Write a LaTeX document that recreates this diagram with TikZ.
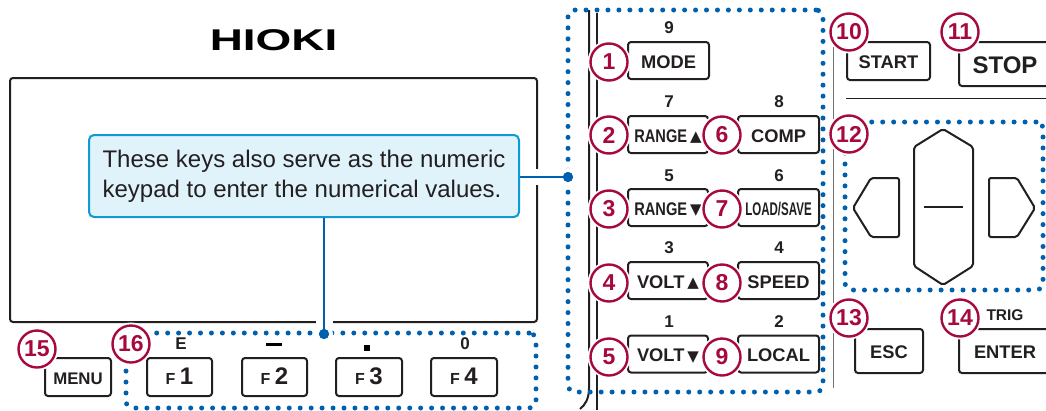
\documentclass[tikz,border=0pt]{standalone}
\usepackage{fontspec}
\setmainfont{Liberation Sans}
\newfontfamily\symfont{DejaVu Sans}
\definecolor{ink}{HTML}{231F20}
\definecolor{crim}{HTML}{A6093D}
\definecolor{dotblue}{HTML}{0060B0}
\definecolor{callfill}{HTML}{E0F3FB}
\definecolor{callline}{HTML}{0F9AD6}
\newcommand{\fs}[1]{\fontsize{#1}{#1}\selectfont}
\newcommand{\upt}{\hspace{3pt}{\symfont\fs{15}\raisebox{0.5pt}{▲}}}
\newcommand{\dnt}{\hspace{3pt}{\symfont\fs{15}\raisebox{0.5pt}{▼}}}
\newcommand{\fk}[1]{{\fs{16}F}\hspace{4.5pt}{\fs{24}#1}}
\tikzset{
  x=1pt,y=-1pt,
  keybox/.style={draw=ink,line width=2pt,rounded corners=3pt,fill=white,inner sep=0pt,text=ink,font=\bfseries\fs{18.3},align=center,text height=15pt,text depth=0pt},
  badge/.style={circle,draw=crim,line width=2.4pt,fill=white,minimum size=37pt,inner sep=0pt,text=crim,font=\bfseries\fs{23},
     preaction={draw=white,line width=6pt}},
  numlabel/.style={text=ink,font=\bfseries\fs{17},inner sep=0pt},
  dotframe/.style={draw=dotblue,line width=5pt,line cap=round,dash pattern=on 0pt off 10.95pt,rounded corners=7pt,inner sep=0pt},
  navkey/.style={draw=ink,line width=2pt,rounded corners=2pt,fill=white},
  panel/.style={draw=ink,line width=2pt,rounded corners=3pt},
  bigdot/.style={circle,fill=dotblue,minimum size=10pt,inner sep=0pt},
  lead/.style={draw=dotblue,line width=2pt},
}
\begin{document}
\begin{tikzpicture}
\useasboundingbox (0,0) rectangle (1046,410);
% logo
\node[inner sep=0pt,text=black] (logo) at (273.5,40) {\scalebox{1.53}[1]{\bfseries\fs{30}HIOKI}};
% screen
\node[panel,minimum width=527pt,minimum height=244pt,inner sep=0pt] (screen) at (273.5,200) {};
% case lines
\coordinate (ca) at (589,10);
\coordinate (cb) at (589,388);
\coordinate (cc) at (580,409);
\draw[ink,line width=2pt] (ca) -- (cb) .. controls (589,399) and (585,405) .. (cc);
\coordinate (da) at (597,13);
\coordinate (db) at (597,410);
\draw[ink,line width=2pt] (da) -- (db);
\coordinate (ea) at (833,46);
\coordinate (eb) at (833,388);
\draw[black!55,line width=1pt] (ea) -- (eb);
\coordinate (fa) at (846,98.5);
\coordinate (fb) at (1046,98.5);
\draw[ink,line width=1pt] (fa) -- (fb);
% dotted groups
\node[dotframe,minimum width=255pt,minimum height=382pt] (grpA) at (695.5,201) {};
\node[dotframe,minimum width=410pt,minimum height=75pt] (grpB) at (331,370.5) {};
\node[dotframe,minimum width=198pt,minimum height=168pt] (grpC) at (944,206) {};
% callout and leaders
\node[circle,fill=white,minimum size=18pt,inner sep=0pt] (haloA) at (568,177) {};
\node[circle,fill=white,minimum size=18pt,inner sep=0pt] (haloB) at (324,334) {};
\node[bigdot] (dotA) at (568,177) {};
\node[bigdot] (dotB) at (324,334) {};
\node[minimum width=430pt,minimum height=82pt,inner sep=0pt] (call) at (304,176) {};
\draw[white,line width=16pt] (call.east |- dotA) -- (dotA.west);
\draw[white,line width=17pt] (call.south -| dotB) -- (dotB.north);
\node[bigdot] at (dotA) {};
\node[bigdot] at (dotB) {};
\draw[lead] (call.east |- dotA) -- (dotA);
\draw[lead] (call.south -| dotB) -- (dotB);
\node[draw=callline,line width=2pt,fill=callfill,rounded corners=5pt,minimum width=430pt,minimum height=82pt,inner sep=0pt,text=ink,font=\fs{24},align=left] (callB) at (304,176) {These keys also serve as the numeric\\[6pt]keypad to enter the numerical values.};
% number labels
\node[numlabel] (n9) at (669,28) {9};
\node[numlabel] (n7) at (669,102) {7};
\node[numlabel] (n8) at (779,102) {8};
\node[numlabel] (n5) at (669,176) {5};
\node[numlabel] (n6) at (779,176) {6};
\node[numlabel] (n3) at (669,248) {3};
\node[numlabel] (n4) at (779,248) {4};
\node[numlabel] (n1) at (669,322) {1};
\node[numlabel] (n2) at (779,322) {2};
% keys, middle block
\node[keybox,minimum width=81pt,minimum height=37pt] (kmode) at (668.5,60.5) {MODE};
\node[keybox,minimum width=80pt,minimum height=37pt] (krup) at (668,134.5) {\scalebox{.8}[1]{RANGE}\upt};
\node[keybox,minimum width=81pt,minimum height=37pt] (kcomp) at (778.5,134.5) {COMP};
\node[keybox,minimum width=80pt,minimum height=37pt] (krdn) at (668,207.5) {\scalebox{.8}[1]{RANGE}\dnt};
\node[keybox,minimum width=81pt,minimum height=37pt] (kload) at (778.5,207.5) {\scalebox{.63}[1]{LOAD/SAVE}};
\node[keybox,minimum width=80pt,minimum height=37pt] (kvup) at (668,280.5) {VOLT\upt};
\node[keybox,minimum width=81pt,minimum height=37pt] (kspeed) at (778.5,280.5) {SPEED};
\node[keybox,minimum width=80pt,minimum height=37pt] (kvdn) at (668,354) {VOLT\dnt};
\node[keybox,minimum width=81pt,minimum height=37pt] (klocal) at (778.5,354) {LOCAL};
% keys, right block
\node[keybox,minimum width=83pt,minimum height=38pt] (kstart) at (888.5,61) {START};
\node[keybox,minimum width=92pt,minimum height=44pt,font=\bfseries\fs{24},text height=19pt] (kstop) at (1005,64) {STOP};
\node[keybox,minimum width=68pt,minimum height=44pt] (kesc) at (889,351) {ESC};
\node[keybox,minimum width=92pt,minimum height=44pt] (kenter) at (1005,351) {ENTER};
\node[text=ink,font=\bfseries\fs{15.5},inner sep=0pt] (trig) at (1005,315.5) {TRIG};
% nav keys
\draw[navkey] (943,129) -- (973,147) -- (973,266) -- (943,285) -- (914,266) -- (914,147) -- cycle;
\coordinate (ma) at (924,207);
\coordinate (mb) at (963,207);
\draw[ink,line width=2pt] (ma) -- (mb);
\draw[navkey] (899,178) -- (899,237) -- (871,237) -- (853,208) -- (871,178) -- cycle;
\draw[navkey] (989,178) -- (989,237) -- (1017,237) -- (1035,208) -- (1017,178) -- cycle;
% keys, bottom row
\node[keybox,minimum width=66pt,minimum height=38pt,font=\bfseries\fs{16.8},text height=14pt] (kmenu) at (78,377) {MENU};
\node[keybox,minimum width=65pt,minimum height=38pt,text height=15pt] (kf1) at (179.5,377) {\fk{1}};
\node[keybox,minimum width=65pt,minimum height=38pt,text height=15pt] (kf2) at (274.5,377) {\fk{2}};
\node[keybox,minimum width=66pt,minimum height=38pt,text height=15pt] (kf3) at (369,377) {\fk{3}};
\node[keybox,minimum width=66pt,minimum height=38pt,text height=15pt] (kf4) at (464,377) {\fk{4}};
\node[numlabel] (lE) at (181,344) {E};
\node[fill=black,minimum width=16pt,minimum height=3pt,inner sep=0pt] (lminus) at (274,344) {};
\node[fill=black,minimum width=6pt,minimum height=6pt,inner sep=0pt] (lpoint) at (367,348) {};
\node[numlabel] (l0) at (465,344) {0};
% badges
\foreach \nm/\px/\py/\tx in {b1/609/62/1,b2/609/135/2,b3/609/209/3,b4/609/283/4,b5/609/357/5,b6/722/135/6,b7/722/209/7,b8/722/283/8,b9/722/357/9,b10/849/32/10,b11/960/32/11,b12/849/134/12,b13/849/318/13,b14/960/318/14,b15/37/349/15,b16/131/344/16}
  \node[badge] (\nm) at (\px,\py) {\tx};
\end{tikzpicture}
\end{document}
